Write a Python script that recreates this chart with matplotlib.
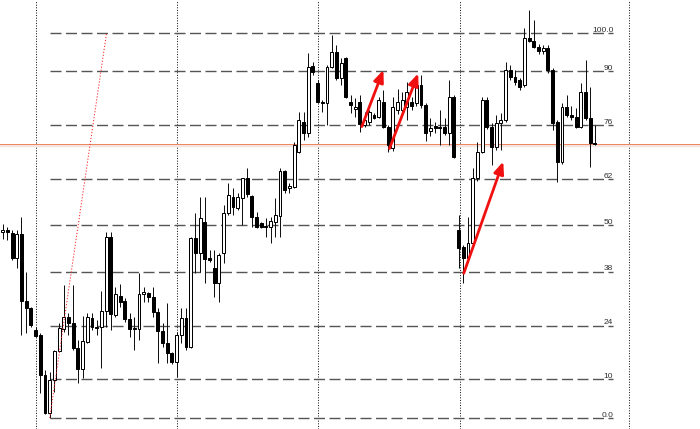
import matplotlib
matplotlib.use('Agg')
import matplotlib.pyplot as plt
from matplotlib.patches import Rectangle

# ---- candle data (in Fibonacci-percent units: 0 = swing low, 100 = swing high)
opens = [48.3, 48.9, 48.0, 41.5, 47.8, 30.4, 28.6, 22.9, 21.5, 11.2,
         1.3, 9.9, 17.4, 23.1, 26.2, 24.7, 18.2, 12.7, 19.7, 26.0,
         23.6, 23.6, 27.8, 47.0, 26.8, 31.7, 30.4, 25.7, 23.3, 23.1,
         32.2, 32.5, 31.5, 27.5, 22.6, 19.5, 16.9, 14.5, 21.6, 26.0,
         18.4, 46.8, 42.9, 50.9, 41.6, 39.0, 35.1, 42.9, 53.2, 57.4,
         54.5, 57.1, 62.3, 57.7, 52.2, 50.6, 49.9, 49.6, 50.9, 52.5,
         64.2, 59.7, 60.0, 69.1, 76.9, 74.0, 91.4, 87.0, 82.1, 81.8,
         91.2, 95.1, 88.3, 93.5, 82.1, 80.3, 82.1, 76.1, 76.9, 78.7,
         78.2, 82.1, 75.6, 70.1, 80.0, 80.0, 80.8, 82.1, 81.8, 86.5,
         81.3, 74.5, 75.8, 75.6, 75.6, 74.0, 83.4, 48.8, 44.4, 41.6,
         45.5, 62.3, 69.1, 82.6, 75.6, 70.4, 76.6, 77.4, 90.4, 88.6,
         87.8, 86.5, 98.7, 97.9, 96.4, 95.3, 96.1, 90.4, 76.9, 66.5,
         80.8, 78.7, 78.2, 75.6, 84.7, 77.9, 71.4]
highs = [50.5, 49.5, 48.8, 48.8, 52.2, 38.0, 28.8, 23.6, 22.0, 12.5,
         12.0, 17.7, 24.7, 34.5, 27.3, 34.5, 20.3, 26.5, 27.3, 27.3,
         25.5, 33.0, 48.3, 48.3, 34.0, 34.8, 31.2, 27.3, 26.2, 37.7,
         34.0, 32.7, 34.0, 28.6, 24.7, 29.9, 17.1, 22.3, 28.6, 28.6,
         47.0, 53.2, 57.4, 57.4, 43.6, 43.6, 42.9, 55.3, 61.0, 59.7,
         58.4, 62.3, 65.0, 58.0, 53.5, 50.9, 51.9, 52.2, 57.1, 65.0,
         64.4, 61.0, 71.7, 79.5, 79.5, 94.8, 92.5, 87.8, 82.6, 91.7,
         99.5, 96.9, 93.5, 93.8, 83.9, 83.1, 83.9, 79.5, 80.0, 79.2,
         83.4, 85.2, 76.1, 83.4, 85.5, 84.7, 87.3, 83.4, 88.8, 89.0,
         81.8, 77.9, 77.0, 80.0, 77.9, 87.8, 83.9, 52.7, 44.9, 52.2,
         65.0, 71.7, 83.4, 83.4, 76.6, 78.7, 79.2, 92.5, 91.7, 90.4,
         88.3, 101.3, 106.0, 103.4, 97.1, 96.9, 96.9, 90.9, 77.4, 81.8,
         83.9, 81.0, 80.5, 87.0, 93.0, 86.0, 76.1]
lows = [46.5, 46.2, 41.0, 39.0, 21.6, 22.0, 23.6, 21.0, 6.5, 1.0,
        0.0, 6.8, 17.1, 22.3, 21.6, 17.7, 9.1, 10.4, 19.5, 22.9,
        21.6, 13.0, 23.6, 22.9, 26.2, 28.8, 24.9, 21.0, 17.7, 20.3,
        30.1, 30.1, 26.2, 14.3, 18.4, 14.3, 14.0, 10.6, 19.5, 17.7,
        18.2, 37.7, 37.9, 35.1, 40.5, 31.4, 30.1, 40.3, 52.7, 52.7,
        54.0, 50.1, 57.4, 49.6, 49.4, 49.4, 47.0, 45.5, 47.0, 47.0,
        58.4, 58.4, 59.7, 68.8, 72.2, 73.0, 89.1, 81.8, 79.5, 76.1,
        90.9, 87.8, 86.5, 83.1, 79.2, 78.2, 74.3, 75.6, 76.1, 77.6,
        77.9, 75.3, 69.1, 69.4, 79.0, 79.5, 77.4, 80.0, 81.0, 80.5,
        72.0, 73.2, 74.0, 70.9, 73.5, 70.9, 67.5, 39.0, 35.1, 40.5,
        45.0, 61.6, 68.8, 75.0, 65.7, 69.6, 69.6, 76.9, 87.8, 86.5,
        85.2, 86.0, 97.7, 96.1, 94.5, 94.5, 89.6, 74.8, 61.3, 66.0,
        78.2, 77.4, 75.3, 75.3, 77.4, 65.2, 70.9]
closes = [48.8, 48.3, 41.5, 47.8, 30.4, 28.6, 24.2, 21.3, 11.2, 1.3,
          9.9, 17.4, 23.4, 26.2, 24.7, 18.2, 12.7, 20.0, 26.2, 23.6,
          23.4, 27.8, 47.0, 27.0, 32.2, 30.1, 25.7, 23.1, 23.1, 32.2,
          32.7, 31.5, 27.5, 22.6, 19.5, 16.9, 14.5, 21.6, 26.0, 18.4,
          46.8, 42.9, 51.9, 41.3, 41.0, 35.1, 42.3, 53.2, 57.9, 54.8,
          57.4, 62.3, 58.2, 52.2, 49.6, 49.6, 49.6, 51.2, 52.7, 64.2,
          59.2, 60.3, 70.9, 77.4, 74.0, 91.2, 89.9, 82.1, 81.8, 91.2,
          95.1, 88.3, 92.2, 83.4, 81.3, 80.8, 76.4, 77.4, 79.5, 77.9,
          82.6, 75.6, 70.9, 80.8, 82.1, 82.6, 84.7, 81.0, 86.5, 81.3,
          74.0, 75.3, 75.3, 75.4, 74.0, 83.4, 67.8, 44.2, 41.6, 45.5,
          62.3, 69.1, 82.6, 75.6, 70.4, 76.6, 77.4, 90.4, 88.6, 87.3,
          86.0, 98.7, 97.9, 96.4, 95.3, 96.1, 90.4, 76.6, 66.5, 80.8,
          78.7, 78.2, 75.6, 84.7, 77.9, 71.4, 71.2]

# Fibonacci retracement levels and labels
fib_levels = [0.0, 10, 24, 38, 50, 62, 76, 90, 100.0]
fib_labels = ["0.0", "10", "24", "38", "50", "62", "76", "90", "100.0"]
fib_start, fib_end = 10, 129.9          # bar indices

# period separators (bar indices)
separators = [7, 37, 67, 97.3, 133.3]

# current bid line
bid = 71.17

# red dotted trend line (bar index, level)
trend_line = [(10, 0.0), (22.1, 100.0)]

# red arrows: ((tail index, tail level), (head index, head level))
arrows = [((76.4, 75.7), (81.0, 90.4)),
          ((82.3, 70.0), (88.4, 89.5)),
          ((98.1, 37.6), (106.5, 66.6))]

plt.rcParams['lines.scale_dashes'] = False

fig = plt.figure(figsize=(7.0, 4.29), dpi=100)
ax = fig.add_axes([0, 0, 1, 1])
ax.set_xlim(-0.574, 148.36)
ax.set_ylim(-2.857, 108.57)
ax.axis('off')

px = 0.72  # one pixel in points

# separators (dotted)
for s in separators:
    ax.axvline(s, color='#111111', lw=1.0 * px, ls=(0, (1.0 * px, 1.6 * px)),
               zorder=1)

# fib lines
for lv, lb in zip(fib_levels, fib_labels):
    ax.hlines(lv, fib_start, fib_end, color='#555555', lw=1.4 * px,
              linestyles=[(0, (11 * px, 4.5 * px))], zorder=1)
    ax.text(fib_end, lv + 0.35, lb, ha='right', va='baseline',
            fontsize=6.0, family='Liberation Sans', color='#303030', zorder=6)

# bid line with pale band
ax.axhline(bid - 0.4, color='#f3e6e0', lw=2.5 * px, zorder=2)
ax.axhline(bid, color='#ee7a52', lw=0.9 * px, zorder=2)

# candles
n = len(opens)
xs = list(range(n))
ax.vlines(xs, lows, highs, color='#111111', lw=1.0 * px, zorder=3)
w = 0.62
for i in xs:
    o, c = opens[i], closes[i]
    bottom = min(o, c)
    h = max(abs(c - o), 0.2)
    fc = 'white' if c >= o else 'black'
    ax.add_patch(Rectangle((i - w / 2, bottom), w, h, facecolor=fc,
                           edgecolor='black', lw=1.0 * px, zorder=4))

# red dotted trend line
(tx0, ty0), (tx1, ty1) = trend_line
ax.plot([tx0, tx1], [ty0, ty1], color='#ff2a2a', lw=1.0 * px,
        ls=(0, (1.2 * px, 1.8 * px)), zorder=5)

# arrows
for (a0, a1) in arrows:
    ax.annotate('', xy=a1, xytext=a0,
                arrowprops=dict(arrowstyle='-|>,head_length=0.6,head_width=0.25',
                                color='#f01010', lw=2.0, shrinkA=0, shrinkB=0,
                                mutation_scale=12),
                zorder=7)

fig.savefig('out.png', dpi=100, facecolor='white')
